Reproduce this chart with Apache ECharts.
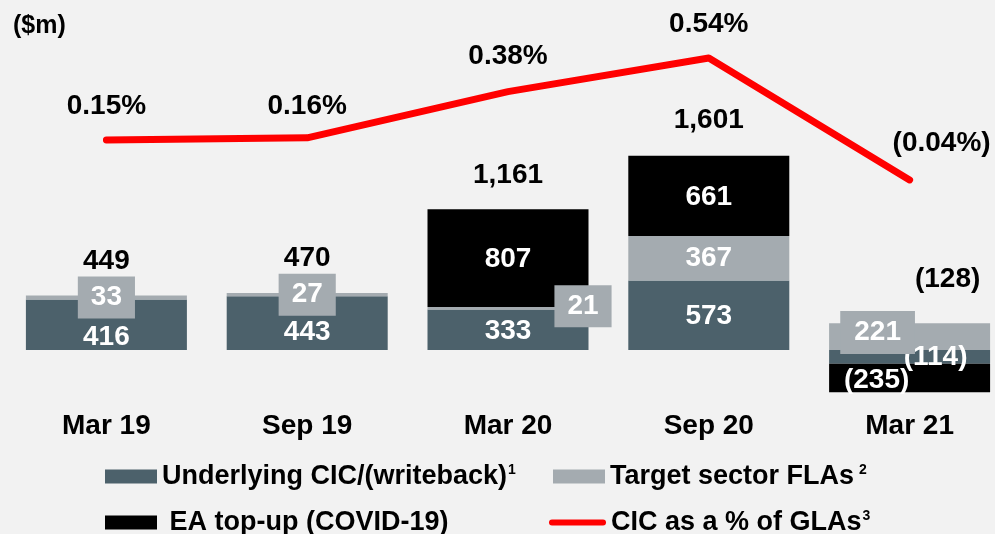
<!DOCTYPE html>
<html>
<head>
<meta charset="utf-8">
<script src="https://cdn.jsdelivr.net/npm/echarts@6/dist/echarts.min.js"></script>
<style>
  html, body { margin: 0; padding: 0; background: #f2f2f2; }
  #main { width: 995px; height: 534px; }
</style>
</head>
<body>
<div id="main"></div>
<script>
// data
const categories = ['Mar 19', 'Sep 19', 'Mar 20', 'Sep 20', 'Mar 21'];
const underlying = [416, 443, 333, 573, -114];
const targetFla = [33, 27, 21, 367, 221];
const eaTopUp = [null, null, 807, 661, -235];
const totals = [449, 470, 1161, 1601, -128];
const cicPct = [0.15, 0.16, 0.38, 0.54, -0.04];

// label placement (kept apart from the values)
const underlyingOffsets = [[0, 13], [0, 9], [0, 1], [0, 1], [26, 0]];
const targetOffsets = [[0, 0], [0, 0], [75, -2], [0, 0], [-32, -4]];
const targetBoxes = [[7, 13, 7, 13], [7, 13, 7, 13], [7, 13, 7, 13], null, [11, 14, 4, 14]];
const eaOffsets = [null, null, [0, 1], [0, 1], [-33, 2]];
const totalOffsets = [[0, -34], [0, -35], [0, -34], [0, -35], [38, -86]];
const pctOffsets = [[0, -34], [0, -32], [0, -35], [0, -34], [32, -37]];

const FONT = '"Liberation Sans", Arial, sans-serif';
const C_DARK = '#4c616b';
const C_GREY = '#a4abb0';
const C_RED = '#ff0000';
const CAPSULE = 'path://M3,0 L54,0 A3,3 0 0 1 54,6 L3,6 A3,3 0 0 1 3,0 Z';

function fmt(v) {
    const s = Math.abs(v).toString().replace(/\B(?=(\d{3})+(?!\d))/g, ',');
    return v < 0 ? '(' + s + ')' : s;
}

const chart = echarts.init(document.getElementById('main'));

const labelBase = {
    show: true,
    position: 'inside',
    color: '#fff',
    fontFamily: FONT,
    fontWeight: 'bold',
    fontSize: 28,
    formatter: (p) => fmt(p.value)
};

const option = {
    backgroundColor: '#f2f2f2',
    animation: false,
    title: {
        text: '($m)',
        left: 8,
        top: 9,
        textStyle: { fontFamily: FONT, fontWeight: 'bold', fontSize: 25, color: '#000' }
    },
    grid: { left: 6, width: 1004, top: 20, height: 380, containLabel: false, outerBoundsMode: 'none' },
    xAxis: {
        type: 'category',
        data: categories,
        axisLine: { show: false },
        axisTick: { show: false },
        axisLabel: { margin: 12, fontFamily: FONT, fontWeight: 'bold', fontSize: 28, color: '#000' }
    },
    yAxis: [
        { type: 'value', min: -412, max: 2720, show: false, splitLine: { show: false } },
        { type: 'value', min: -1.0866, max: 0.7204, show: false, splitLine: { show: false } }
    ],
    legend: [
        { name: 'Underlying CIC/(writeback)', left: 105, top: 463, icon: 'rect', sup: '1' },
        { name: 'Target sector FLAs', left: 553, top: 463, icon: 'rect', sup: ' 2' },
        { name: 'EA top-up (COVID-19)', left: 105, top: 509, icon: 'rect', pre: ' ' },
        { name: 'CIC as a % of GLAs', left: 549, top: 509, icon: CAPSULE, sup: '3' }
    ].map((l) => ({
        data: [{ name: l.name, icon: l.icon }],
        left: l.left,
        top: l.top,
        padding: 0,
        itemWidth: l.icon === CAPSULE ? 57 : 52,
        itemHeight: l.icon === CAPSULE ? 7 : 14,
        itemGap: 0,
        selectedMode: false,
        formatter: (n) => '{t|' + (l.pre || '') + n + '}' + (l.sup ? '{s|' + l.sup + '}' : ''),
        textStyle: {
            fontFamily: FONT,
            fontWeight: 'bold',
            fontSize: 27,
            color: '#000',
            rich: {
                t: { fontFamily: FONT, fontWeight: 'bold', fontSize: 27, color: '#000' },
                s: { fontFamily: FONT, fontWeight: 'bold', fontSize: 14, color: '#000', verticalAlign: 'top', padding: [0, 0, 12, 1] }
            }
        }
    })),
    series: [
        {
            name: 'Underlying CIC/(writeback)',
            type: 'bar',
            stack: 'cic',
            barWidth: 161,
            itemStyle: { color: C_DARK },
            data: underlying.map((v, i) => ({
                value: v,
                label: Object.assign({}, labelBase, { offset: underlyingOffsets[i] })
            }))
        },
        {
            name: 'Target sector FLAs',
            type: 'bar',
            stack: 'cic',
            barWidth: 161,
            itemStyle: { color: C_GREY },
            data: targetFla.map((v, i) => {
                const lab = Object.assign({}, labelBase, { offset: targetOffsets[i] });
                if (targetBoxes[i]) {
                    lab.backgroundColor = C_GREY;
                    lab.padding = targetBoxes[i];
                }
                return { value: v, label: lab };
            })
        },
        {
            name: 'EA top-up (COVID-19)',
            type: 'bar',
            stack: 'cic',
            barWidth: 161,
            itemStyle: { color: '#000' },
            data: eaTopUp.map((v, i) => ({
                value: v,
                label: Object.assign({}, labelBase, { offset: eaOffsets[i] || [0, 0] })
            }))
        },
        {
            name: 'total',
            type: 'scatter',
            symbolSize: 0,
            silent: true,
            itemStyle: { opacity: 1 },
            data: totals.map((v, i) => ({
                value: v,
                label: Object.assign({}, labelBase, { color: '#000', offset: totalOffsets[i] })
            }))
        },
        {
            name: 'CIC as a % of GLAs',
            type: 'line',
            yAxisIndex: 1,
            symbol: 'circle',
            symbolSize: 1,
            itemStyle: { color: C_RED },
            lineStyle: { color: C_RED, width: 7, cap: 'round', join: 'round' },
            z: 5,
            data: cicPct.map((v, i) => ({
                value: v,
                label: Object.assign({}, labelBase, {
                    color: '#000',
                    offset: pctOffsets[i],
                    formatter: (p) => p.value < 0
                        ? '(' + Math.abs(p.value).toFixed(2) + '%)'
                        : p.value.toFixed(2) + '%'
                })
            }))
        }
    ]
};

chart.setOption(option);
</script>
</body>
</html>
